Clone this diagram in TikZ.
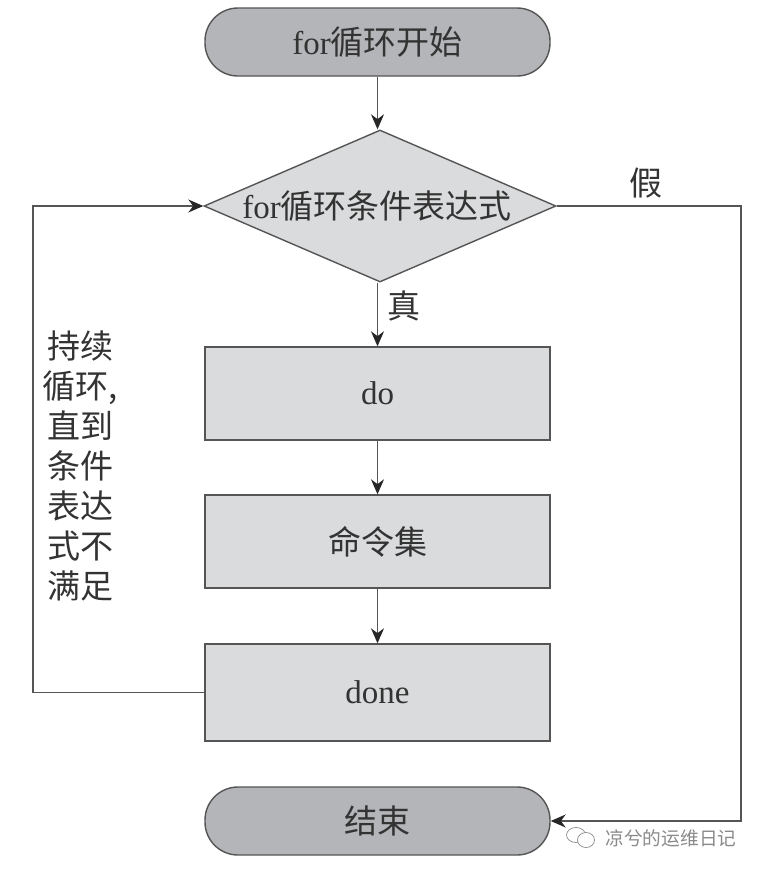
\documentclass[tikz,border=0pt]{standalone}
\usepackage{fontspec}
\setmainfont{Liberation Serif}
\newfontfamily\cjk{Noto Sans CJK SC}
\usetikzlibrary{positioning}
\usetikzlibrary{arrows.meta}
\usetikzlibrary{shapes.geometric}
\definecolor{startgray}{HTML}{B4B5B8}
\definecolor{boxgray}{HTML}{DADBDC}
\definecolor{linegray}{HTML}{555555}
\definecolor{markgray}{HTML}{8A8A8A}
\tikzset{
  lbl/.style={text=black!80, font=\fontsize{33}{40}\selectfont},
  endbox/.style={draw=linegray, line width=1.4pt, rectangle, rounded corners=33pt, fill=startgray, minimum width=345pt, minimum height=68pt, lbl},
  stepbox/.style={draw=linegray, line width=1.4pt, rectangle, fill=boxgray, minimum width=345pt, minimum height=93pt, lbl},
  cond/.style={draw=linegray, line width=1.4pt, diamond, aspect=2.32, inner sep=0pt, fill=boxgray, minimum width=352pt, minimum height=152pt, lbl},
  arr/.style={-{Stealth[length=15pt,width=13pt,color=black!85]}, draw=linegray, line width=1.4pt},
}
\begin{document}
\begin{tikzpicture}[x=1pt,y=1pt]
  \useasboundingbox[fill=white] (0,0) rectangle (760,-871);
  \node[endbox] (s) at (377.5,-42) {for{\cjk 循环开始}};
  \node[cond] (c) at (380,-206) {\hspace*{-6pt}for{\cjk 循环条件表达式}};
  \node[stepbox] (d) at (377.5,-393.5) {do};
  \node[stepbox, below=53.6pt of d] (b) {{\cjk 命令集}};
  \node[stepbox, below=54.6pt of b, minimum height=97pt] (e) {done};
  \node[endbox, below=44.6pt of e] (t) {{\cjk 结束}};

  \node[lbl] (yes) at (404,-306) {{\cjk 真}};
  \node[lbl] (no) at (646,-183) {{\cjk 假}};
  \node[lbl, align=center] (loop) at (80,-466) {{\cjk 持续}\\{\cjk 循环,}\\{\cjk 直到}\\{\cjk 条件}\\{\cjk 表达}\\{\cjk 式不}\\{\cjk 满足}};

  \coordinate (l2) at (33,-206);
  \coordinate (r1) at (741,-206);

  \draw[arr] (s.south) to (s.south |- c.north);
  \draw[arr] (d.north |- c.south) to (d.north);
  \draw[arr] (d) to (b);
  \draw[arr] (b) to (e);
  \draw[arr] (e.west) to (e.west -| l2) to (l2) to (c.west);
  \draw[arr] (c.east) to (r1) to (r1 |- t.east) to (t.east);

  % watermark
  \node[text=markgray, font=\fontsize{18.7}{19}\selectfont\cjk, anchor=west] (wm) at (602,-838) {凉兮的运维日记};
  \node[draw=markgray, ellipse, line width=0.7pt, minimum width=19pt, minimum height=15pt, inner sep=0pt] (ic1) at (576,-835) {};
  \node[draw=markgray, fill=white, ellipse, line width=0.7pt, minimum width=17pt, minimum height=15pt, inner sep=0pt] (ic2) at (586,-840) {};
\end{tikzpicture}
\end{document}
